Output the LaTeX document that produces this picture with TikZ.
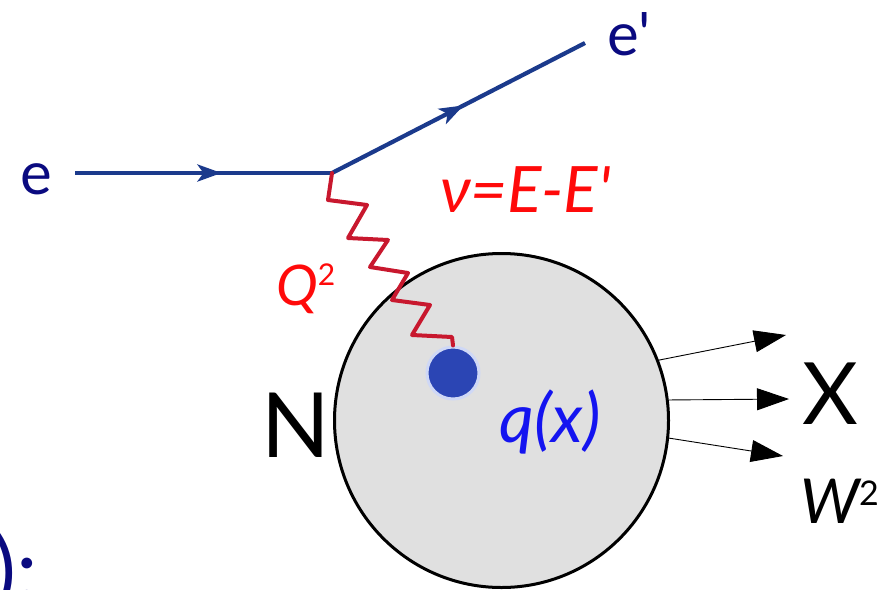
\documentclass[tikz,border=0pt]{standalone}
\usepackage{fontspec}
\setmainfont{Lato}
\usetikzlibrary{arrows.meta,decorations.markings}
\definecolor{navy}{HTML}{0A0A80}
\definecolor{eline}{HTML}{1B3A8C}
\definecolor{photon}{HTML}{C8182E}
\definecolor{nured}{HTML}{FF0A0A}
\definecolor{qblue}{HTML}{1414F0}
\definecolor{dotblue}{HTML}{2B45B4}
\definecolor{halo}{HTML}{CFD8F6}
\definecolor{nucfill}{HTML}{E0E0E0}
\begin{document}
\begin{tikzpicture}[x=1pt,y=-1pt,
  lbl/.style={inner sep=0pt, outer sep=0pt},
  electron/.style={eline, line width=4.2pt, postaction={decorate},
    decoration={markings, mark=at position #1 with {\arrow{Stealth[length=24pt,width=17pt,inset=6pt]}}}},
  outarrow/.style={black, line width=0.9pt, -{Triangle[length=32pt,width=22pt]}},
  photonline/.style={photon, line width=4pt, line join=round, line cap=round},
  fs/.style={font=\fontsize{#1}{#1}\selectfont},
  fsi/.style={font=\fontsize{#1}{#1}\selectfont\itshape}]
\useasboundingbox (0,0) rectangle (882,589);

% nucleon
\node[circle, draw=black, line width=3pt, fill=nucfill, minimum size=334pt, inner sep=0pt] (nuc) at (501.5,420.5) {};

% quark
\node[circle, fill=dotblue, draw=halo, line width=3pt, minimum size=52pt, inner sep=0pt] (qk) at (453,373) {};

% electron lines
\coordinate (ein) at (75,173);
\coordinate (v) at (332,173);
\coordinate (eout) at (585,43);
\draw[electron=0.57] (ein) -- (v);
\draw[electron=0.52] (v) -- (eout);

% photon
\draw[photonline] (v) -- ++(-4,27) -- ++(39,5) -- ++(-19,33) -- ++(40,2) -- ++(-18,27)
  -- ++(38,6) -- ++(-16,27) -- ++(38,5) -- ++(-18,30) -- ++(40,2) -- (qk.north);

% outgoing hadrons
\coordinate (x1) at (786,335);
\coordinate (x2) at (789,399);
\coordinate (x3) at (783,456);
\draw[outarrow] (nuc.21) -- (x1);
\draw[outarrow] (nuc.7) -- (x2);
\draw[outarrow] (nuc.-6) -- (x3);

% labels
\node[lbl, fs=60, navy, anchor=base] (le) at (36,194) {e};
\node[lbl, fs=60, navy, anchor=base west] (lep) at (607,55) {e\textquotesingle};
\node[lbl, fsi=64, nured, anchor=base west] (lnu) at (440,212) {ν=E-E\textquotesingle};
\node[lbl, nured, anchor=base west] (lq2) at (276,305) {\fontsize{56}{56}\selectfont\itshape Q\raisebox{20pt}{\fontsize{30}{30}\selectfont\upshape 2}};
\node[lbl, fs=90, black, anchor=center] (lN) at (296,425) {N};
\node[lbl, fsi=68, qblue, anchor=center] (lqx) at (550,422) {q(x)};
\node[lbl, fs=86, black, anchor=center] (lX) at (830,394) {X};
\node[lbl, black, anchor=base west] (lW) at (800,523) {\fontsize{62}{62}\selectfont\itshape W\raisebox{18pt}{\fontsize{34}{34}\selectfont\upshape 2}};
\node[lbl, fs=86, navy, anchor=base west] (lcolon) at (-6,600) {):};
\end{tikzpicture}
\end{document}
